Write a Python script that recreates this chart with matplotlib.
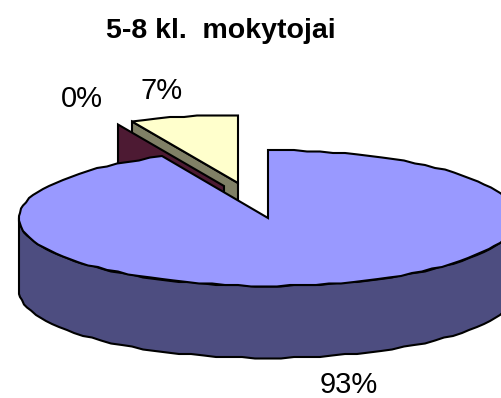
import numpy as np
import matplotlib
matplotlib.use('Agg')
import matplotlib.pyplot as plt
from matplotlib.patches import Polygon

plt.rcParams['font.family'] = ['Liberation Sans', 'DejaVu Sans']

title = '5-8 kl.  mokytojai'
labels = ['93%', '0%', '7%']
values = [93, 0, 7]
top_colors = ['#9999FF', '#993366', '#FFFFCC']
side_colors = ['#4D4D80', '#4D1A33', '#808066']
centers = [(268, 218), (224, 186), (238, 183)]
label_pos = [(349, 385), (82, 99), (162, 91)]

rx, ry = 249, 68
depth = 72
lw = 1.5


def arc(cx, cy, a0, a1, step=3.0):
    # angles in degrees clockwise from 12 o'clock
    # y snapped to a small grid to get the slightly jagged outline of the old renderer
    n = max(int(abs(a1 - a0) / step), 1)
    t = np.radians(np.linspace(a0, a1, n + 1))
    x = cx + rx * np.sin(t)
    y = cy - ry * np.cos(t)
    return np.column_stack([np.round(x), np.round(y / 1.5) * 1.5])


fig = plt.figure(figsize=(5.01, 3.98), dpi=100)
ax = fig.add_axes([0, 0, 1, 1])
ax.set_xlim(0, 501)
ax.set_ylim(398, 0)
ax.axis('off')

starts = np.cumsum([0] + values[:-1]) * 3.6
ends = np.cumsum(values) * 3.6


def add(pts, color, z):
    ax.add_patch(Polygon(pts, closed=True, fc=color, ec='black', lw=lw, zorder=z,
                         joinstyle='miter'))


# exploded small slices go behind the big one, 7% first, then the 0% one
for i, z in [(2, 1), (1, 2)]:
    cx, cy = centers[i]
    a0 = starts[i]
    p = arc(cx, cy, a0, a0)[0]
    # cut wall of the slice
    add([p, (cx, cy), (cx, cy + depth), (p[0], p[1] + depth)], side_colors[i], z)
    if values[i] > 0:
        add(np.vstack([[(cx, cy)], arc(cx, cy, a0, ends[i])]), top_colors[i], z + 0.5)

# big slice: rim then top face
cx, cy = centers[0]
rim_top = arc(cx, cy, 90, 270)
rim_bot = rim_top[::-1] + [0, depth]
add(np.vstack([rim_top, rim_bot]), side_colors[0], 3)
add(np.vstack([[(cx, cy)], arc(cx, cy, starts[0], ends[0])]), top_colors[0], 4)

ax.text(221, 31, title, fontsize=20.5, fontweight='bold', ha='center', va='center')
for lab, (x, y) in zip(labels, label_pos):
    ax.text(x, y, lab, fontsize=21, ha='center', va='center')

fig.savefig('out.png', dpi=100)
